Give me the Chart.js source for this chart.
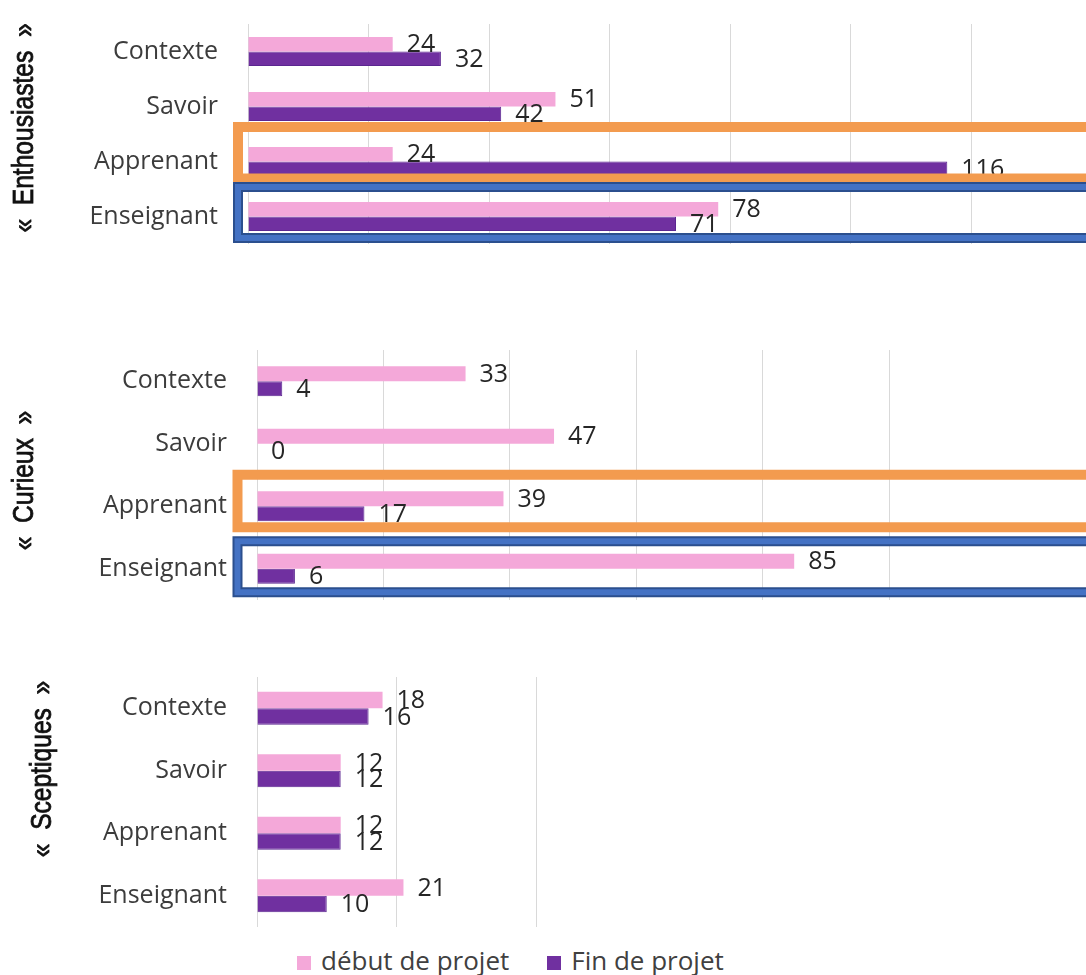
<!DOCTYPE html>
<html lang="fr">
<head>
<meta charset="utf-8">
<title>Enthousiastes, Curieux, Sceptiques</title>
<script src="https://cdn.jsdelivr.net/npm/chart.js@4.4.1/dist/chart.umd.min.js"></script>
<style>
  html, body { margin: 0; padding: 0; background: #fff; }
  body { width: 1086px; height: 975px; overflow: hidden; position: relative; font-family: "Open Sans", sans-serif; }
  .panel { position: absolute; left: 0; }
  #legend { position: absolute; left: 297px; top: 947px; font-size: 26px; line-height: 26px; color: #404040; white-space: nowrap; }
  #legend .item { display: inline-block; margin-right: 38px; }
  #legend .sw { display: inline-block; width: 14px; height: 14px; margin-right: 10px; }
</style>
</head>
<body>
<canvas id="enthChart" class="panel" style="top:0px" width="1100" height="260"></canvas>
<canvas id="curChart" class="panel" style="top:300px" width="1086" height="320"></canvas>
<canvas id="scepChart" class="panel" style="top:640px" width="1086" height="300"></canvas>
<div id="legend"></div>
<script>
// categories and series
const categories = ["Contexte", "Savoir", "Apprenant", "Enseignant"];
const seriesLabels = ["début de projet", "Fin de projet"];
const seriesColors = ["#F4A8D9", "#7030A0"];
const groupLabels = ["«  Enthousiastes  »", "«  Curieux  »", "«  Sceptiques  »"];

// values
const enthDebut = [24, 51, 24, 78];
const enthFin = [32, 42, 116, 71];
const curDebut = [33, 47, 39, 85];
const curFin = [4, 0, 17, 6];
const scepDebut = [18, 12, 12, 21];
const scepFin = [16, 12, 12, 10];

// x axis max of each panel (gridlines every 20)
const axisMax = [140, 100, 40];
const axisStep = 20;

Chart.defaults.font.family = '"Open Sans", sans-serif';

// value at the end of every bar
const valueLabels = {
    id: "valueLabels",
    afterDatasetsDraw(chart) {
        const ctx = chart.ctx;
        ctx.save();
        ctx.font = '25px "Open Sans", sans-serif';
        ctx.fillStyle = "#262626";
        ctx.textAlign = "left";
        ctx.textBaseline = "middle";
        chart.data.datasets.forEach((ds, i) => {
            chart.getDatasetMeta(i).data.forEach((bar, j) => {
                ctx.fillText(ds.data[j], bar.x + 14, bar.y + 1);
            });
        });
        ctx.restore();
    },
};

// rotated group name on the left (narrowed like the original font)
const groupTitle = {
    id: "groupTitle",
    afterDraw(chart, args, opts) {
        if (!opts.text) return;
        const ctx = chart.ctx;
        ctx.save();
        ctx.translate(opts.x, opts.y);
        ctx.rotate(-Math.PI / 2);
        ctx.scale(0.82, 1);
        ctx.font = '30px "Liberation Sans", Arial, sans-serif';
        ctx.fillStyle = "#111";
        ctx.strokeStyle = "#111";
        ctx.lineWidth = 0.8;
        ctx.textAlign = "center";
        ctx.textBaseline = "middle";
        ctx.fillText(opts.text, 0, 0);
        ctx.strokeText(opts.text, 0, 0);
        ctx.restore();
    },
};

// orange / blue highlight frames around a category
const highlightBoxes = {
    id: "highlightBoxes",
    afterDraw(chart, args, opts) {
        const boxes = opts.boxes || [];
        const y = chart.scales.y;
        const ctx = chart.ctx;
        const left = chart.chartArea.left + opts.dx;
        const right = chart.width + 20;
        boxes.forEach((b) => {
            const c = y.getPixelForValue(b.index);
            const top = c + b.top;
            const h = b.bottom - b.top;
            ctx.save();
            ctx.lineJoin = "miter";
            if (b.kind === "blue") {
                ctx.strokeStyle = "#2B4F8E";
                ctx.lineWidth = 10;
                ctx.strokeRect(left, top, right - left, h);
                ctx.strokeStyle = "#4472C4";
                ctx.lineWidth = 6;
                ctx.strokeRect(left, top, right - left, h);
            } else {
                ctx.strokeStyle = "#F39B4F";
                ctx.lineWidth = 10;
                ctx.strokeRect(left, top, right - left, h);
            }
            ctx.restore();
        });
    },
};

function makePanel(id, debut, fin, max, cfg) {
    return new Chart(document.getElementById(id), {
        type: "bar",
        data: {
            labels: categories,
            datasets: [
                {
                    label: seriesLabels[0],
                    data: debut,
                    backgroundColor: seriesColors[0],
                    borderWidth: 0,
                },
                {
                    label: seriesLabels[1],
                    data: fin,
                    backgroundColor: seriesColors[1],
                    borderColor: "#5B2690",
                    borderWidth: 1,
                },
            ],
        },
        options: {
            indexAxis: "y",
            responsive: false,
            animation: false,
            devicePixelRatio: 1,
            layout: { padding: cfg.padding },
            datasets: {
                bar: { categoryPercentage: cfg.catPct, barPercentage: 1 },
            },
            plugins: {
                legend: { display: false },
                tooltip: { enabled: false },
                groupTitle: cfg.title,
                highlightBoxes: { dx: cfg.boxDx || 0, boxes: cfg.boxes || [] },
            },
            scales: {
                x: {
                    min: 0,
                    max: max,
                    ticks: { display: false, stepSize: axisStep },
                    grid: { color: "#d9d9d9", drawTicks: false },
                    border: { display: false },
                    afterFit(scale) {
                        scale.height = 0;
                        scale.paddingLeft = 0;
                        scale.paddingRight = 0;
                    },
                },
                y: {
                    ticks: { color: "#3c3c3c", font: { size: 25 }, padding: 30 },
                    grid: { display: false, drawTicks: false },
                    border: { display: false },
                    afterFit(scale) {
                        scale.width = cfg.axisLeft;
                        scale.paddingTop = 0;
                        scale.paddingBottom = 0;
                    },
                },
            },
        },
        plugins: [valueLabels, groupTitle, highlightBoxes],
    });
}

makePanel("enthChart", enthDebut, enthFin, axisMax[0], {
    padding: { top: 24, bottom: 16, right: 8, left: 0 },
    axisLeft: 248,
    catPct: 0.53,
    title: { text: groupLabels[0], x: 25, y: 128 },
    boxDx: -10,
    boxes: [
        { index: 2, kind: "orange", top: -34.5, bottom: 17 },
        { index: 3, kind: "blue", top: -29.5, bottom: 21.5 },
    ],
});

makePanel("curChart", curDebut, curFin, axisMax[1], {
    padding: { top: 50, bottom: 20, right: 197, left: 0 },
    axisLeft: 257,
    catPct: 0.48,
    title: { text: groupLabels[1], x: 25, y: 180.5 },
    boxDx: -19.5,
    boxes: [
        { index: 2, kind: "orange", top: -31.5, bottom: 21 },
        { index: 3, kind: "blue", top: -27.5, bottom: 23.5 },
    ],
});

makePanel("scepChart", scepDebut, scepFin, axisMax[2], {
    padding: { top: 37, bottom: 13, right: 550, left: 0 },
    axisLeft: 257,
    catPct: 0.53,
    title: { text: groupLabels[2], x: 43, y: 129 },
});

// shared legend under the three panels
const legend = document.getElementById("legend");
seriesLabels.forEach((name, i) => {
    const item = document.createElement("span");
    item.className = "item";
    const sw = document.createElement("span");
    sw.className = "sw";
    sw.style.background = seriesColors[i];
    item.appendChild(sw);
    item.appendChild(document.createTextNode(name));
    legend.appendChild(item);
});
</script>
</body>
</html>
